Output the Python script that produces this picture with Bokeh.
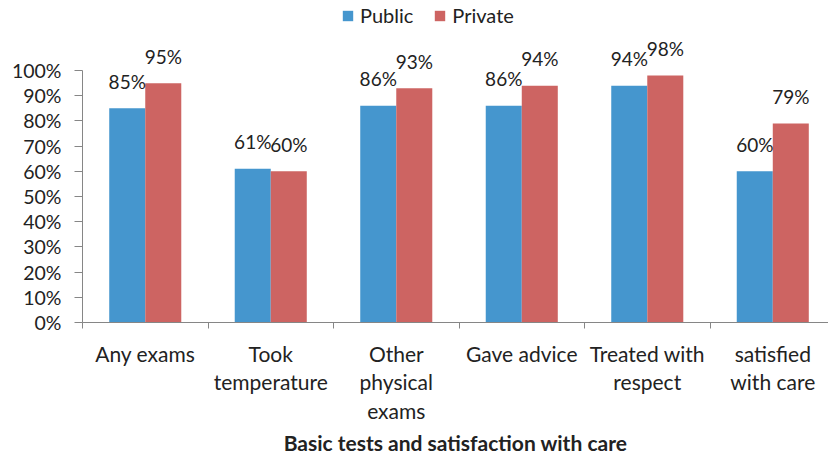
from bokeh.plotting import figure
from bokeh.models import ColumnDataSource, FixedTicker, NumeralTickFormatter, Range1d, Legend, LegendItem
from bokeh.core.properties import value
from bokeh.embed import file_html
from bokeh.resources import INLINE

categories = ["Any exams", "Took\ntemperature", "Other\nphysical\nexams", "Gave advice",
              "Treated with\nrespect", "satisfied\nwith care"]
public = [85, 61, 86, 86, 94, 60]
private = [95, 60, 93, 94, 98, 79]
y_ticks = [0, 10, 20, 30, 40, 50, 60, 70, 80, 90, 100]
x_title = "Basic tests and satisfaction with care"

BLUE = "#4596CE"
RED = "#CD6462"
AXIS = "#868686"
TEXT = "#222222"
FONT = "Lato"

n = len(categories)
centers = [i + 0.5 for i in range(n)]
bw = 0.287
pub_x = [c - bw / 2 for c in centers]
pri_x = [c + bw / 2 for c in centers]

src_pub = ColumnDataSource(dict(x=pub_x, top=[v / 100 for v in public], lab=[f"{v}%" for v in public]))
src_pri = ColumnDataSource(dict(x=pri_x, top=[v / 100 for v in private], lab=[f"{v}%" for v in private]))

p = figure(width=828, height=459, output_backend="svg", toolbar_location=None,
           x_range=Range1d(0, 5.944), y_range=Range1d(0, 1.278),
           min_border_left=82, min_border_right=0, min_border_top=0, min_border_bottom=137)
p.outline_line_color = None
p.grid.visible = False
p.background_fill_color = "white"

r1 = p.vbar(x="x", top="top", width=bw, source=src_pub, fill_color=BLUE, line_color=None)
r2 = p.vbar(x="x", top="top", width=bw, source=src_pri, fill_color=RED, line_color=None)

for s in (src_pub, src_pri):
    p.text(x="x", y="top", text="lab", source=s, text_align="center", text_baseline="middle",
           y_offset=-27, text_font=value(FONT), text_font_size="19px", text_color=TEXT)

# y axis
ya = p.yaxis[0]
ya.ticker = FixedTicker(ticks=[t / 100 for t in y_ticks])
ya.formatter = NumeralTickFormatter(format="0%")
ya.bounds = (0, 1)
ya.axis_line_color = AXIS
ya.major_tick_line_color = AXIS
ya.major_tick_out = 8
ya.major_tick_in = 0
ya.minor_tick_line_color = None
ya.major_label_standoff = 13
ya.major_label_text_font = FONT
ya.major_label_text_font_size = "19.5px"
ya.major_label_text_color = TEXT

# x axis
xa = p.xaxis[0]
xa.ticker = FixedTicker(ticks=centers, minor_ticks=list(range(n + 1)))
xa.major_label_overrides = {c: lab for c, lab in zip(centers, categories)}
xa.axis_line_color = AXIS
xa.major_tick_line_color = None
xa.minor_tick_line_color = AXIS
xa.minor_tick_out = 6
xa.minor_tick_in = 0
xa.major_label_standoff = 12
xa.major_label_text_font = FONT
xa.major_label_text_font_size = "21px"
xa.major_label_text_color = TEXT
xa.major_label_text_line_height = 1.15
xa.axis_label = x_title
xa.axis_label_text_font = FONT
xa.axis_label_text_font_size = "21px"
xa.axis_label_text_font_style = "bold"
xa.axis_label_text_color = TEXT
xa.axis_label_standoff = 4

legend = Legend(items=[LegendItem(label="Public", renderers=[r1]),
                       LegendItem(label="Private", renderers=[r2])],
                orientation="horizontal", location=(259, 295))
legend.border_line_color = None
legend.background_fill_alpha = 0
legend.padding = 0
legend.margin = 0
legend.spacing = 20
legend.glyph_width = 13
legend.glyph_height = 13
legend.label_standoff = 6
legend.label_text_font = FONT
legend.label_text_font_size = "20px"
legend.label_text_color = TEXT
p.add_layout(legend, "center")

open("out.html", "w").write(file_html(p, INLINE))
